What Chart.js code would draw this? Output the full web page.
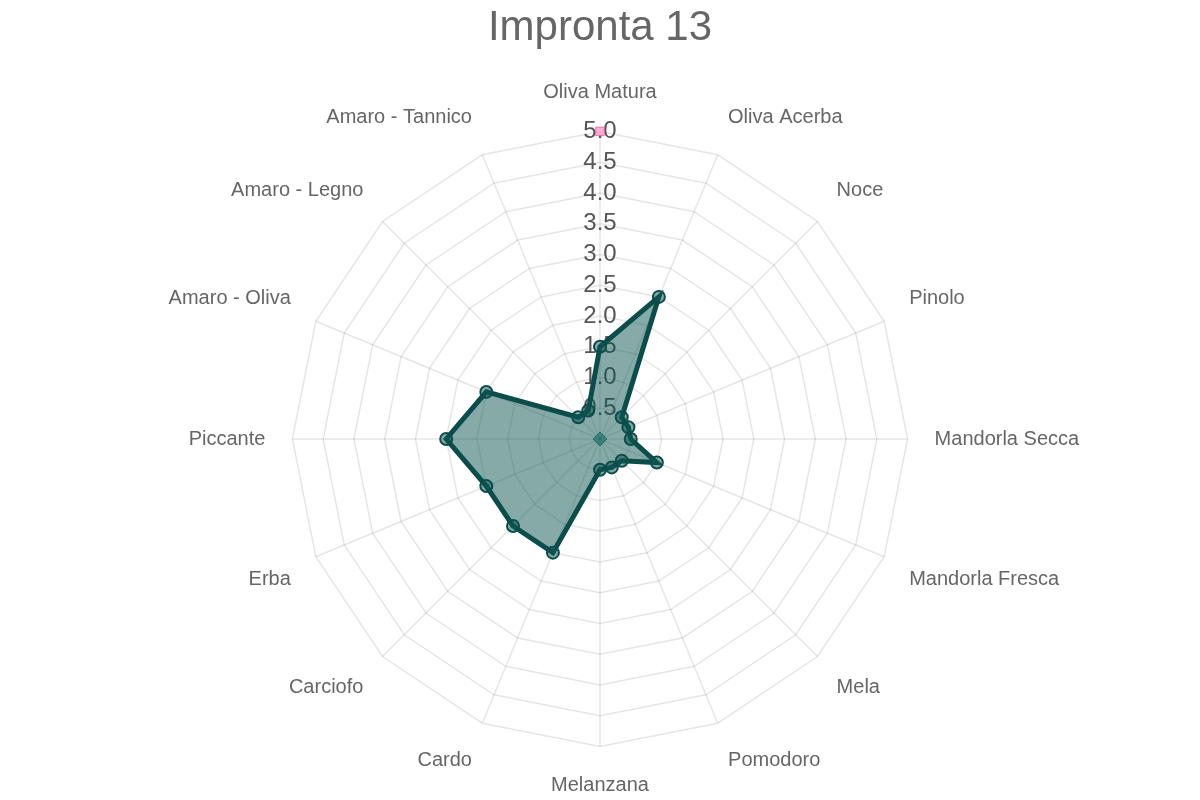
<!DOCTYPE html>
<html>
<head>
<meta charset="utf-8">
<script src="https://cdn.jsdelivr.net/npm/chart.js@4.4.0/dist/chart.umd.min.js"></script>
<style>
html,body{margin:0;padding:0;background:#fff;}
#wrap{width:1200px;height:800px;}
</style>
</head>
<body>
<div id="wrap"><canvas id="c" width="1200" height="800"></canvas></div>
<script>
const categories = ["Oliva Matura","Oliva Acerba","Noce","Pinolo","Mandorla Secca","Mandorla Fresca","Mela","Pomodoro","Melanzana","Cardo","Carciofo","Erba","Piccante","Amaro - Oliva","Amaro - Legno","Amaro - Tannico"];
const values = [1.5, 2.5, 0.5, 0.5, 0.5, 1.0, 0.5, 0.5, 0.5, 2.0, 2.0, 2.0, 2.5, 2.0, 0.5, 0.5];
const maxMarker = [5];
const minMarker = [0];
const titleText = "Impronta 13";

Chart.defaults.font.family = "'Liberation Sans', Arial, Helvetica, sans-serif";
Chart.defaults.color = "#666";

new Chart(document.getElementById('c'), {
  type: 'radar',
  data: {
    labels: categories,
    datasets: [
      {
        data: values,
        borderColor: '#0b4d4b',
        backgroundColor: 'rgba(11,85,80,0.5)',
        borderWidth: 5,
        pointRadius: 6,
        pointBorderWidth: 2,
        pointBackgroundColor: 'rgba(11,85,80,0.5)',
        pointBorderColor: '#0b4d4b',
        fill: true
      },
      {
        data: maxMarker,
        pointStyle: 'rect',
        pointRadius: 6,
        borderColor: 'rgba(240,100,170,0.9)',
        backgroundColor: 'rgba(255,140,200,0.7)',
        pointBackgroundColor: 'rgba(255,140,200,0.7)',
        pointBorderColor: 'rgba(240,100,170,0.9)',
        showLine: false,
        fill: false
      },
      {
        data: minMarker,
        pointStyle: 'rectRot',
        pointRadius: 7,
        borderColor: 'rgba(30,130,120,0.9)',
        backgroundColor: 'rgba(30,130,120,0.6)',
        pointBackgroundColor: 'rgba(30,130,120,0.6)',
        pointBorderColor: 'rgba(30,130,120,0.9)',
        showLine: false,
        fill: false
      }
    ]
  },
  options: {
    responsive: false,
    animation: false,
    layout: { padding: { top: 0, bottom: 1 } },
    plugins: {
      legend: { display: false },
      tooltip: { enabled: false },
      title: {
        display: true,
        text: titleText,
        color: '#666',
        font: { size: 42, weight: 'normal' },
        padding: { top: 3, bottom: 27 }
      }
    },
    scales: {
      r: {
        min: 0,
        max: 5,
        ticks: {
          stepSize: 0.5,
          color: '#555',
          showLabelBackdrop: false,
          font: { size: 24 },
          callback: v => v.toFixed(1)
        },
        pointLabels: {
          color: '#666',
          padding: 13,
          font: { size: 20 }
        },
        grid: { color: 'rgba(0,0,0,0.1)', lineWidth: 1.5 },
        angleLines: { color: 'rgba(0,0,0,0.1)', lineWidth: 1.5 }
      }
    }
  }
});
</script>
</body>
</html>
